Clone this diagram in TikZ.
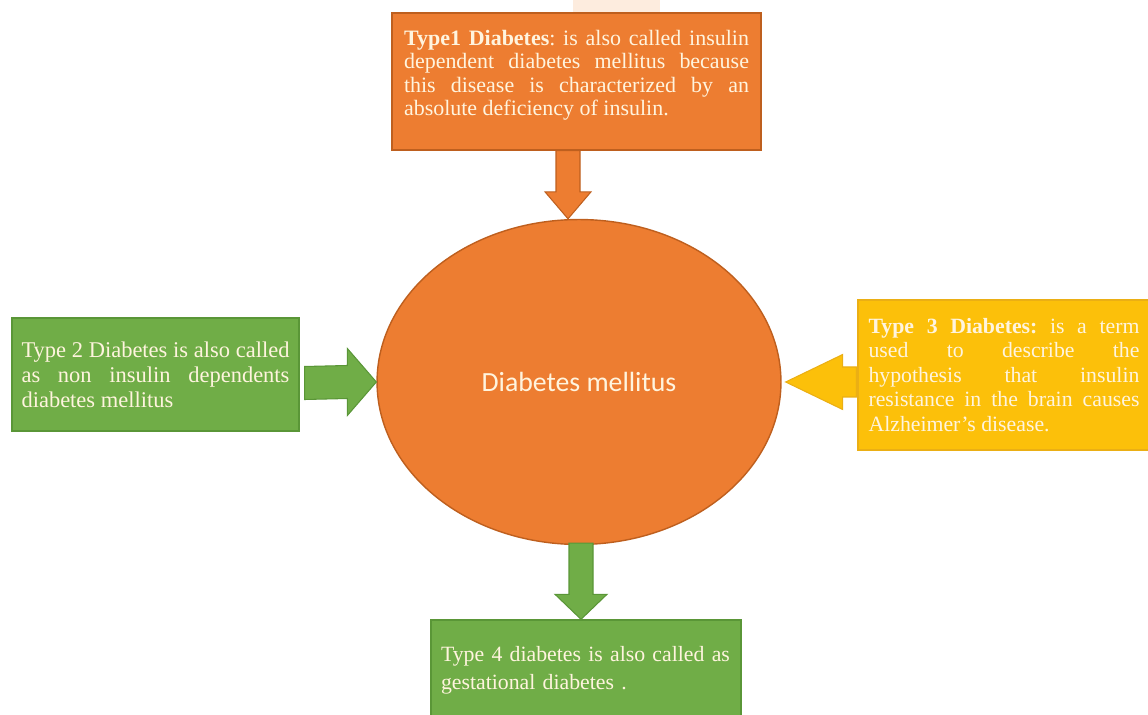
\documentclass[tikz,border=0pt]{standalone}
\usepackage{fontspec}
\setmainfont{Liberation Serif}
\newfontfamily\calfont{Carlito}
\usetikzlibrary{calc,shapes.geometric}

\hyphenpenalty=10000
\exhyphenpenalty=10000
\tolerance=10000
\frenchspacing

\definecolor{dmorange}{RGB}{237,125,49}
\definecolor{dmorangeline}{RGB}{190,95,30}
\definecolor{dmgreen}{RGB}{112,173,71}
\definecolor{dmgreenline}{RGB}{90,150,55}
\definecolor{dmgold}{RGB}{252,192,10}
\definecolor{dmgoldline}{RGB}{235,175,20}
\definecolor{dmcream}{RGB}{255,244,222}
\definecolor{dmpeach}{RGB}{253,236,222}

\tikzset{
  typebox/.style={rectangle, inner sep=0pt, text=dmcream, line width=0.8pt},
  orangebox/.style={typebox, fill=dmorange, draw=dmorangeline},
  greenbox/.style={typebox, fill=dmgreen, draw=dmgreenline},
  goldbox/.style={typebox, fill=dmgold, draw=dmgoldline},
  orangearrow/.style={fill=dmorange, draw=dmorangeline, line width=0.6pt},
  greenarrow/.style={fill=dmgreen, draw=dmgreenline, line width=0.6pt},
  goldarrow/.style={fill=dmgold, draw=dmgoldline, line width=0.6pt}
}

\begin{document}
\begin{tikzpicture}[x=0.02cm, y=-0.02cm]
\useasboundingbox (0,0) rectangle (1148,715);
\clip (0,0) rectangle (1148,715);

% faint band above the top box
\fill[dmpeach] (573,0) rectangle (660,14);

% centre
\node[ellipse, fill=dmorange, draw=dmorangeline, line width=0.8pt,
  minimum width=8.08cm, minimum height=6.5cm, inner sep=0pt,
  text=dmcream, font=\calfont\fontsize{15.8}{18}\selectfont] (dm) at (579,382) {Diabetes mellitus};

% the four types
\node[orangebox, minimum width=7.38cm, minimum height=2.74cm,
  text width=6.9cm, align=justify, font=\fontsize{12.5}{13.2}\selectfont] (type1) at (576.5,81.5)
  {\textbf{Type1 Diabetes}: is also called insulin\linebreak
   dependent diabetes mellitus because\linebreak
   this disease is characterized by an\linebreak
   absolute deficiency of insulin.\par\vspace{0.25cm}};

\node[greenbox, minimum width=5.74cm, minimum height=2.26cm,
  text width=5.36cm, align=justify, font=\fontsize{12.8}{14.2}\selectfont] (type2) at (155.5,374.5)
  {Type 2 Diabetes is also called\linebreak
   as non insulin dependents\linebreak
   diabetes mellitus};

\node[goldbox, minimum width=5.84cm, minimum height=3.0cm,
  text width=5.42cm, align=justify, font=\fontsize{12.4}{13.9}\selectfont] (type3) at (1004,375)
  {\textbf{Type 3 Diabetes:} is a term\linebreak
   used to describe the\linebreak
   hypothesis that insulin\linebreak
   resistance in the brain causes\linebreak
   Alzheimer's disease.};

\node[greenbox, minimum width=6.2cm, minimum height=2.0cm,
  text width=5.8cm, align=left, font=\fontsize{12.4}{15.8}\selectfont] (type4) at (586,670)
  {Type 4 diabetes is also called as\\
   gestational diabetes .};

% block arrows into and out of the centre
\coordinate (a1s) at ($(type1.south)+(-8.5,0)$);
\coordinate (a1t) at (a1s |- dm.north);
\draw[orangearrow] ($(a1s)+(-12,0)$) -- ($(a1t)+(-12,-27)$) -- ($(a1t)+(-23,-27)$) -- (a1t)
  -- ($(a1t)+(23,-27)$) -- ($(a1t)+(12,-27)$) -- ($(a1s)+(12,0)$) -- cycle;

\coordinate (a2s) at ($(type2.east)+(5,8.5)$);
\coordinate (a2t) at (dm.west);
\draw[greenarrow] ($(a2s)+(0,-16.5)$) -- ($(a2t)+(-29,-16.5)$) -- ($(a2t)+(-29,-33.5)$) -- (a2t)
  -- ($(a2t)+(-29,33.5)$) -- ($(a2t)+(-29,16.5)$) -- ($(a2s)+(0,16.5)$) -- cycle;

\coordinate (a3s) at ($(type3.west)+(-1,7)$);
\coordinate (a3t) at ($(dm.east)+(4,0)$);
\draw[goldarrow] ($(a3s)+(0,-15)$) -- ($(a3t)+(57,-15)$) -- ($(a3t)+(57,-27.5)$) -- (a3t)
  -- ($(a3t)+(57,27.5)$) -- ($(a3t)+(57,15)$) -- ($(a3s)+(0,15)$) -- cycle;

\coordinate (a4s) at ($(dm.south)+(2,-2)$);
\coordinate (a4t) at (a4s |- type4.north);
\draw[greenarrow] ($(a4s)+(-12,0)$) -- ($(a4t)+(-12,-25)$) -- ($(a4t)+(-26,-25)$) -- (a4t)
  -- ($(a4t)+(26,-25)$) -- ($(a4t)+(12,-25)$) -- ($(a4s)+(12,0)$) -- cycle;
\end{tikzpicture}
\end{document}
